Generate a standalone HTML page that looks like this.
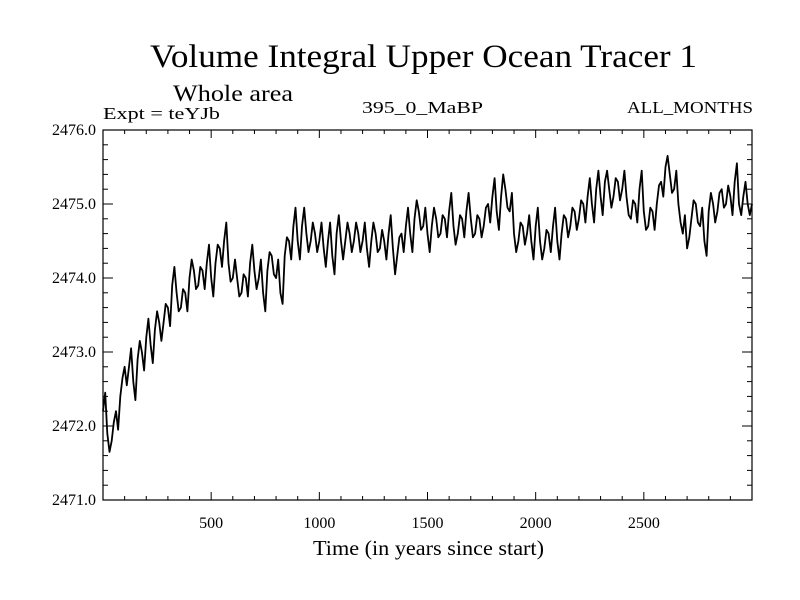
<!DOCTYPE html>
<html><head><meta charset="utf-8"><style>
html,body{margin:0;padding:0;background:#fff;}
svg{display:block;font-family:"Liberation Serif",serif;}
</style></head><body>
<svg id="chart" width="800" height="600" viewBox="0 0 800 600">
<text x="150" y="67" font-size="33" textLength="547" lengthAdjust="spacingAndGlyphs">Volume Integral Upper Ocean Tracer 1</text>
<text x="173" y="101" font-size="23" textLength="120" lengthAdjust="spacingAndGlyphs">Whole area</text>
<text x="103" y="119" font-size="17" textLength="117" lengthAdjust="spacingAndGlyphs">Expt = teYJb</text>
<text x="362" y="113" font-size="17" textLength="121" lengthAdjust="spacingAndGlyphs">395_0_MaBP</text>
<text x="627" y="113" font-size="17" textLength="126" lengthAdjust="spacingAndGlyphs">ALL_MONTHS</text>
<text x="313" y="555" font-size="21" textLength="231" lengthAdjust="spacingAndGlyphs">Time (in years since start)</text>
<g id="axes"></g>
<path id="series" fill="none" stroke="#000" stroke-width="1.8" stroke-linejoin="round"/>
<rect x="103" y="130" width="649" height="370" fill="none" stroke="#000" stroke-width="1.2"/>
</svg>
<script>
const startYear = 0;
const stepYears = 10;
const values = [
2472.2,2472.45,2471.9,2471.65,2471.8,2472.05,2472.2,2471.95,2472.4,2472.65,2472.8,2472.55,
2472.8,2473.05,2472.6,2472.35,2472.9,2473.15,2473.0,2472.75,2473.2,2473.45,
2473.1,2472.85,2473.3,2473.55,2473.4,2473.15,2473.4,2473.65,2473.6,2473.35,
2473.9,2474.15,2473.8,2473.55,2473.6,2473.85,2473.8,2473.55,2474.0,2474.25,
2474.1,2473.85,2473.9,2474.15,2474.1,2473.85,2474.2,2474.45,2474.0,2473.75,
2474.2,2474.45,2474.4,2474.15,2474.5,2474.75,2474.2,2473.95,2474.0,2474.25,
2474.0,2473.75,2473.8,2474.05,2474.0,2473.75,2474.2,2474.45,2474.1,2473.85,
2474.0,2474.25,2473.8,2473.55,2474.1,2474.35,2474.3,2474.05,2474.0,2474.25,
2473.8,2473.65,2474.3,2474.55,2474.5,2474.25,2474.7,2474.95,2474.5,2474.25,
2474.7,2474.95,2474.6,2474.35,2474.5,2474.75,2474.6,2474.35,2474.5,2474.75,
2474.4,2474.15,2474.5,2474.75,2474.3,2474.05,2474.6,2474.85,2474.5,2474.25,
2474.5,2474.75,2474.6,2474.35,2474.5,2474.75,2474.6,2474.35,2474.5,2474.75,
2474.4,2474.15,2474.5,2474.75,2474.6,2474.35,2474.4,2474.65,2474.5,2474.25,
2474.6,2474.85,2474.4,2474.05,2474.3,2474.55,2474.6,2474.35,2474.7,2474.95,
2474.6,2474.35,2474.8,2475.05,2474.9,2474.65,2474.7,2474.95,2474.6,2474.35,
2474.7,2474.95,2474.8,2474.55,2474.6,2474.85,2474.8,2474.55,2474.9,2475.15,
2474.7,2474.45,2474.6,2474.85,2474.8,2474.55,2474.9,2475.15,2474.8,2474.55,
2474.6,2474.85,2474.8,2474.55,2474.7,2474.95,2475.0,2474.75,2475.1,2475.35,
2474.9,2474.65,2475.1,2475.4,2475.2,2474.95,2474.9,2475.15,2474.6,2474.35,
2474.5,2474.75,2474.7,2474.45,2474.6,2474.85,2474.5,2474.25,2474.7,2474.95,
2474.5,2474.25,2474.4,2474.65,2474.6,2474.35,2474.7,2474.95,2474.5,2474.25,
2474.6,2474.85,2474.8,2474.55,2474.7,2474.95,2474.9,2474.65,2474.8,2475.05,
2475.0,2474.75,2475.1,2475.35,2475.0,2474.75,2475.2,2475.45,2475.1,2474.85,
2475.3,2475.45,2475.2,2474.95,2475.1,2475.35,2475.3,2475.05,2475.2,2475.45,
2475.1,2474.85,2474.8,2475.05,2475.0,2474.75,2475.2,2475.45,2474.9,2474.65,
2474.7,2474.95,2474.9,2474.65,2475.0,2475.25,2475.3,2475.1,2475.5,2475.65,
2475.4,2475.15,2475.2,2475.45,2475.0,2474.75,2474.6,2474.85,2474.4,2474.55,
2474.8,2475.05,2475.0,2474.75,2474.7,2474.95,2474.5,2474.3,2474.9,2475.15,
2475.0,2474.75,2474.9,2475.15,2475.2,2474.95,2475.0,2475.25,2475.1,2474.85,
2475.3,2475.55,2475.0,2474.85,2475.1,2475.3,2475.0,2474.85,2475.0
];
const xTickLabels = [500,1000,1500,2000,2500];
const yTickLabels = [2471.0,2472.0,2473.0,2474.0,2475.0,2476.0];

const L=103,R=752,T=130,B=500, xMin=0,xMax=3000,yMin=2471,yMax=2476;
const sx=v=>L+(v-xMin)/(xMax-xMin)*(R-L);
const sy=v=>B-(v-yMin)/(yMax-yMin)*(B-T);
const NS="http://www.w3.org/2000/svg";
const axes=document.getElementById('axes');
function line(x1,y1,x2,y2){const l=document.createElementNS(NS,'line');l.setAttribute('x1',x1);l.setAttribute('y1',y1);l.setAttribute('x2',x2);l.setAttribute('y2',y2);l.setAttribute('stroke','#000');l.setAttribute('stroke-width','1');axes.appendChild(l);return l;}
function text(x,y,s,anchor){const t=document.createElementNS(NS,'text');t.setAttribute('x',x);t.setAttribute('y',y);t.setAttribute('font-size','16');t.setAttribute('text-anchor',anchor);t.textContent=s;axes.appendChild(t);return t;}
for(let v=100;v<xMax;v+=100){const major=v%500===0;const len=major?8:4;const x=sx(v);
 const a=line(x,B,x,B-len);
 const b=line(x,T,x,T+len);}
for(let i=1;i<25;i++){const v=yMin+i*0.2;const major=i%5===0;const len=major?10:5;const y=sy(v);
 const a=line(L,y,L+len,y);
 const b=line(R,y,R-len,y);}
xTickLabels.forEach(v=>{const t=text(sx(v),528,String(v),'middle');
 
 });
yTickLabels.forEach(v=>{const t=text(96,sy(v)+5,v.toFixed(1),'end');
 
 });
let d='';values.forEach((v,i)=>{d+=(i?'L':'M')+sx(startYear+i*stepYears).toFixed(1)+','+sy(v).toFixed(1);});
document.getElementById('series').setAttribute('d',d);
</script>
</body></html>
